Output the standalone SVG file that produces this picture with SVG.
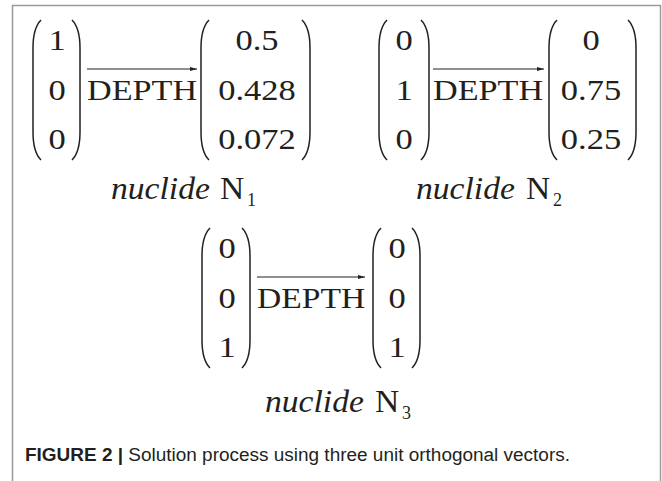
<svg xmlns="http://www.w3.org/2000/svg" xmlns:xlink="http://www.w3.org/1999/xlink" width="662" height="481" viewBox="0 0 662 481">
<style>
.m{font-family:"Liberation Serif","Times New Roman",serif;font-size:30px;fill:#231f20;text-anchor:middle}
.d{font-family:"Liberation Serif","Times New Roman",serif;font-size:30px;fill:#231f20}
.n{font-family:"Liberation Serif","Times New Roman",serif;font-size:32px;fill:#231f20}
.it{font-family:"Liberation Serif","Times New Roman",serif;font-size:32px;font-style:italic;fill:#231f20}
.sub{font-family:"Liberation Serif","Times New Roman",serif;font-size:18px;fill:#231f20}
.p{fill:none;stroke:#231f20;stroke-width:1.5}
.ar{stroke:#231f20;stroke-width:1;fill:none}
.cap{font-family:"Liberation Sans",Arial,sans-serif;font-size:18px;fill:#231f20}
</style>
<defs>
<path id="lp" class="p" d="M9,0 C3,6 1,14 1,28 L1,112 C1,126 3,134 9,140"/>
<path id="rp" class="p" d="M1,0 C7,6 9,14 9,28 L9,112 C9,126 7,134 1,140"/>
<marker id="ah" markerWidth="8" markerHeight="6" refX="7" refY="3" orient="auto" markerUnits="userSpaceOnUse">
<path d="M0,1 L7,3 L0,5 Z" fill="#231f20"/>
</marker>
</defs>
<rect width="662" height="481" fill="#fff"/>
<path d="M12.5,481 L12.5,5.5 L660.5,5.5 L660.5,481" fill="none" stroke="#9a9a9a" stroke-width="1.5"/>

<g id="connectors">
<line class="ar" x1="87" y1="69" x2="197" y2="69" marker-end="url(#ah)"/>
<line class="ar" x1="433" y1="69" x2="544" y2="69" marker-end="url(#ah)"/>
<line class="ar" x1="257" y1="277" x2="365" y2="277" marker-end="url(#ah)"/>
<text class="d" transform="matrix(1.14 0 0 1 87 100)">DEPTH</text>
<text class="d" transform="matrix(1.14 0 0 1 433 100)">DEPTH</text>
<text class="d" transform="matrix(1.12 0 0 1 257 308)">DEPTH</text>
</g>

<g id="n1-in">
<use xlink:href="#lp" x="32" y="20"/><use xlink:href="#rp" x="71" y="20"/>
<text class="m" transform="matrix(1.15 0 0 1 57 50)">1</text>
<text class="m" transform="matrix(1.15 0 0 1 57 100)">0</text>
<text class="m" transform="matrix(1.15 0 0 1 57 149)">0</text>
</g>
<g id="n1-out">
<use xlink:href="#lp" x="200" y="20"/><use xlink:href="#rp" x="301" y="20"/>
<text class="m" transform="matrix(1.15 0 0 1 257 50)">0.5</text>
<text class="m" transform="matrix(1.15 0 0 1 257 100)">0.428</text>
<text class="m" transform="matrix(1.15 0 0 1 257 149)">0.072</text>
</g>
<g id="n1-label">
<text class="it" transform="matrix(1.05 0 0 1 111 199)">nuclide</text>
<text class="n" transform="matrix(1.05 0 0 1 220 199)">N</text>
<text class="sub" x="247" y="206">1</text>
</g>

<g id="n2-in">
<use xlink:href="#lp" x="378" y="20"/><use xlink:href="#rp" x="420" y="20"/>
<text class="m" transform="matrix(1.15 0 0 1 404 50)">0</text>
<text class="m" transform="matrix(1.15 0 0 1 404 100)">1</text>
<text class="m" transform="matrix(1.15 0 0 1 404 149)">0</text>
</g>
<g id="n2-out">
<use xlink:href="#lp" x="548" y="20"/><use xlink:href="#rp" x="627" y="20"/>
<text class="m" transform="matrix(1.15 0 0 1 591 50)">0</text>
<text class="m" transform="matrix(1.15 0 0 1 591 100)">0.75</text>
<text class="m" transform="matrix(1.15 0 0 1 591 149)">0.25</text>
</g>
<g id="n2-label">
<text class="it" transform="matrix(1.05 0 0 1 416 199)">nuclide</text>
<text class="n" transform="matrix(1.05 0 0 1 526 199)">N</text>
<text class="sub" x="553" y="206">2</text>
</g>

<g id="n3-in">
<use xlink:href="#lp" x="201" y="228"/><use xlink:href="#rp" x="241" y="228"/>
<text class="m" transform="matrix(1.15 0 0 1 227 258)">0</text>
<text class="m" transform="matrix(1.15 0 0 1 227 308)">0</text>
<text class="m" transform="matrix(1.15 0 0 1 227 357)">1</text>
</g>
<g id="n3-out">
<use xlink:href="#lp" x="372" y="228"/><use xlink:href="#rp" x="411" y="228"/>
<text class="m" transform="matrix(1.15 0 0 1 397 258)">0</text>
<text class="m" transform="matrix(1.15 0 0 1 397 308)">0</text>
<text class="m" transform="matrix(1.15 0 0 1 397 357)">1</text>
</g>
<g id="n3-label">
<text class="it" transform="matrix(1.05 0 0 1 265 412)">nuclide</text>
<text class="n" transform="matrix(1.05 0 0 1 375 412)">N</text>
<text class="sub" x="402" y="419">3</text>
</g>

<g id="caption">
<text class="cap" x="25" y="461" textLength="545" lengthAdjust="spacingAndGlyphs"><tspan font-weight="bold">FIGURE 2 |</tspan> Solution process using three unit orthogonal vectors.</text>
</g>
</svg>
